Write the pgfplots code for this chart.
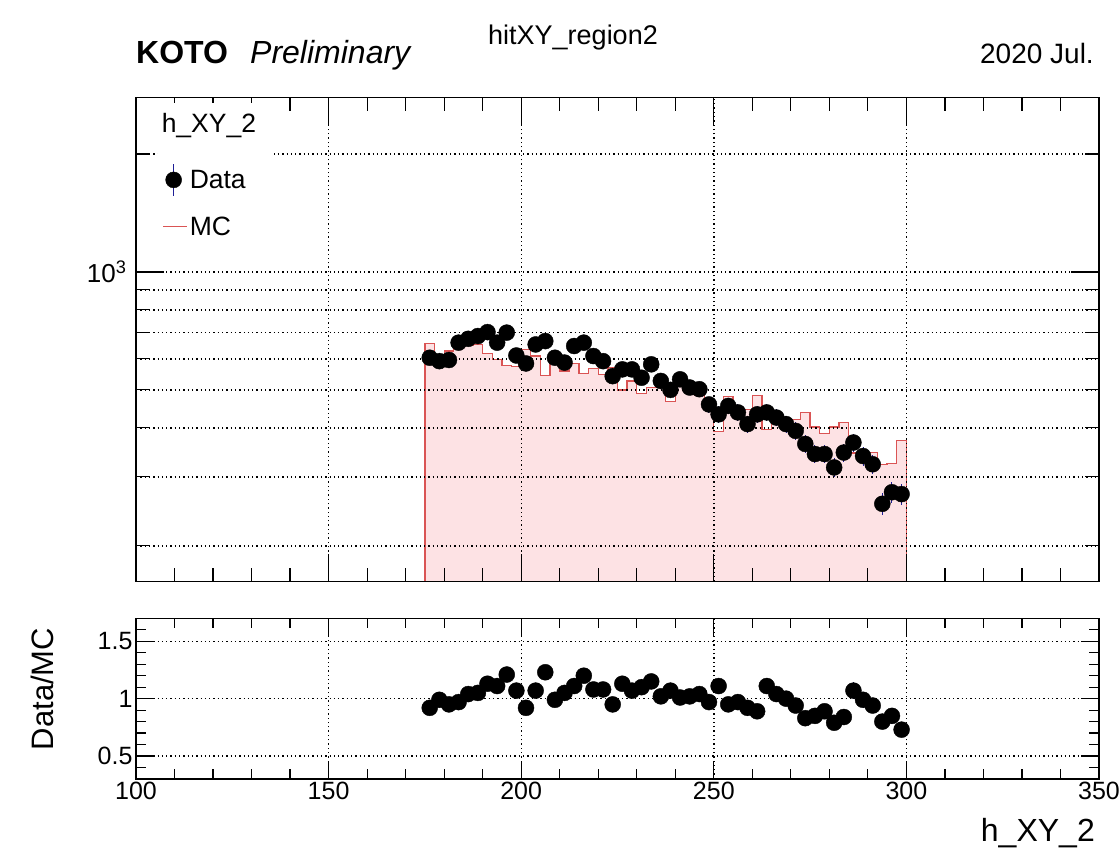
\documentclass[border=0pt]{standalone}
\usepackage{fontspec}
\setmainfont{Liberation Sans}
\usepackage{pgfplots}
\usepackage{pgfplotstable}
\pgfplotsset{compat=1.18}

\definecolor{mcline}{RGB}{218,84,84}
\definecolor{mcfill}{RGB}{253,226,228}
\definecolor{errblue}{RGB}{30,30,150}

% data per bin: centre, counts, error, ratio Data/MC, ratio error
\pgfplotstableread{
x d e r re
176.25 604 24.6 0.92 0.049
178.75 592 24.3 0.99 0.053
181.25 596 24.4 0.95 0.051
183.75 660 25.7 0.97 0.049
186.25 675 26.0 1.04 0.052
188.75 686 26.2 1.05 0.052
191.25 702 26.5 1.13 0.055
193.75 660 25.7 1.11 0.056
196.25 700 26.5 1.21 0.059
198.75 612 24.7 1.07 0.056
201.25 584 24.2 0.92 0.049
203.75 653 25.6 1.07 0.054
206.25 666 25.8 1.23 0.062
208.75 604 24.6 0.99 0.052
211.25 587 24.2 1.05 0.056
213.75 647 25.4 1.11 0.057
216.25 660 25.7 1.20 0.061
218.75 610 24.7 1.08 0.057
221.25 592 24.3 1.08 0.058
223.75 542 23.3 0.95 0.053
226.25 564 23.7 1.13 0.062
228.75 564 23.7 1.07 0.059
231.25 537 23.2 1.10 0.062
233.75 581 24.1 1.15 0.062
236.25 527 23.0 1.02 0.058
238.75 500 22.4 1.07 0.062
241.25 532 23.1 1.01 0.057
243.75 507 22.5 1.02 0.059
246.25 502 22.4 1.04 0.060
248.75 459 21.4 0.97 0.059
251.25 433 20.8 1.11 0.069
253.75 455 21.3 0.95 0.058
256.25 438 20.9 0.97 0.060
258.75 409 20.2 0.92 0.059
261.25 433 20.8 0.89 0.056
263.75 438 20.9 1.11 0.069
266.25 425 20.6 1.04 0.066
268.75 409 20.2 1.00 0.064
271.25 393 19.8 0.94 0.062
273.75 364 19.1 0.83 0.056
276.25 343 18.5 0.85 0.060
278.75 343 18.5 0.89 0.063
281.25 317 17.8 0.79 0.058
283.75 346 18.6 0.84 0.059
286.25 367 19.2 1.07 0.072
288.75 339 18.4 0.99 0.070
291.25 323 18.0 0.94 0.068
293.75 256 16.0 0.80 0.065
296.25 274 16.6 0.85 0.067
298.75 271 16.5 0.73 0.058
}\datatab

% MC histogram, left bin edges (last row closes the final bin)
\pgfplotstableread{
x mc
175.0 656
177.5 600
180.0 628
182.5 680
185.0 649
187.5 653
190.0 620
192.5 597
195.0 578
197.5 574
200.0 634
202.5 610
205.0 543
207.5 610
210.0 559
212.5 583
215.0 550
217.5 567
220.0 548
222.5 570
225.0 500
227.5 527
230.0 490
232.5 507
235.0 517
237.5 467
240.0 527
242.5 497
245.0 483
247.5 475
250.0 392
252.5 480
255.0 454
257.5 445
260.0 484
262.5 396
265.0 410
267.5 408
270.0 420
272.5 438
275.0 402
277.5 387
280.0 402
282.5 412
285.0 345
287.5 343
290.0 346
292.5 322
295.0 324
297.5 372
300.0 372
}\mctab

\pgfplotsset{
  kotoframe/.style={
    scale only axis, width=963pt, xmin=100, xmax=350,
    axis line style={line width=1.2pt},
    tick style={black, line width=1.2pt},
    grid style={black, line width=1.4pt, dash pattern=on 1.3pt off 3pt},
    tick label style={font=\fontsize{25}{30}\selectfont},
    xtick={100,150,...,350}, minor x tick num=4,
    xmajorgrids, ymajorgrids,
    axis on top,
  },
  datamarks/.style={only marks, mark=*, mark size=8pt, black,
    error bars/.cd, y dir=both, y explicit, error mark=none,
    error bar style={errblue, line width=1pt}},
}

\begin{document}
\begin{tikzpicture}
\useasboundingbox (0pt,0pt) rectangle (1119pt,-850pt);

% upper panel: distributions
\begin{axis}[kotoframe,
  at={(136pt,-581.7pt)}, anchor=south west, height=484.4pt,
  ymode=log, ymin=162, ymax=2790,
  ytick={1000}, yticklabels={\mbox{\fontsize{26}{30}\selectfont 10\textsuperscript{3}}},
  yticklabel style={xshift=-6pt},
  minor ytick={200,300,400,500,600,700,800,900,2000}, yminorgrids,
  xticklabels={},
  major tick length=28pt, minor tick length=14pt,
  legend style={at={(0.0228,0.9882)}, anchor=north west, draw=none, fill=white,
    font=\fontsize{26.5}{31}\selectfont, row sep=18pt,
    inner xsep=4pt, inner ysep=8pt},
  legend cell align=left,
]
\addplot[forget plot, const plot, draw=mcline, line width=1.3pt, fill=mcfill]
  table[x=x, y=mc]{\mctab} \closedcycle;
\addplot[forget plot, datamarks] table[x=x, y=d, y error=e]{\datatab};

\addlegendimage{legend image code/.code={}}
\addlegendentry{\hspace*{-28pt}\makebox[106pt][l]{h\_XY\_2}}
\addlegendimage{legend image code/.code={
  \path[draw=none, fill=none] (0pt,-16pt) rectangle (23pt,26pt);
  \draw[errblue, line width=1.2pt] (11.5pt,-16pt) -- (11.5pt,16pt);
  \fill[black] (11.5pt,0pt) circle (8pt);}}
\addlegendentry{\makebox[78pt][l]{Data}}
\addlegendimage{legend image code/.code={
  \draw[mcline, line width=1.2pt] (1pt,0pt) -- (25pt,0pt);}}
\addlegendentry{\makebox[78pt][l]{MC}}
\end{axis}

% lower panel: ratio
\begin{axis}[kotoframe,
  at={(136pt,-779pt)}, anchor=south west, height=160.7pt,
  ymin=0.3, ymax=1.7,
  ytick={0.5,1,1.5}, yticklabels={0.5,1,1.5},
  minor ytick={0.4,0.6,0.7,0.8,0.9,1.1,1.2,1.3,1.4,1.6},
  xticklabels={100,150,200,250,300,350},
  major tick length=18pt, minor tick length=10pt,
]
\addplot[datamarks] table[x=x, y=r, y error=re]{\datatab};
\end{axis}

\node[anchor=base west, inner sep=0pt, font=\fontsize{32}{38}\selectfont\bfseries]
  at (136pt,-64pt) {KOTO};
\node[anchor=base west, inner sep=0pt, font=\fontsize{32}{38}\selectfont\itshape]
  at (250pt,-64pt) {Preliminary};
\node[anchor=base, inner sep=0pt, font=\fontsize{27}{32}\selectfont]
  at (573pt,-45pt) {hitXY\_region2};
\node[anchor=base east, inner sep=0pt, font=\fontsize{28}{34}\selectfont]
  at (1094pt,-64pt) {2020 Jul.};
\node[anchor=base east, inner sep=0pt, font=\fontsize{32}{38}\selectfont]
  at (1095pt,-841pt) {h\_XY\_2};
\node[rotate=90, inner sep=0pt, font=\fontsize{31}{37}\selectfont]
  at (42pt,-689pt) {Data/MC};
\end{tikzpicture}
\end{document}
